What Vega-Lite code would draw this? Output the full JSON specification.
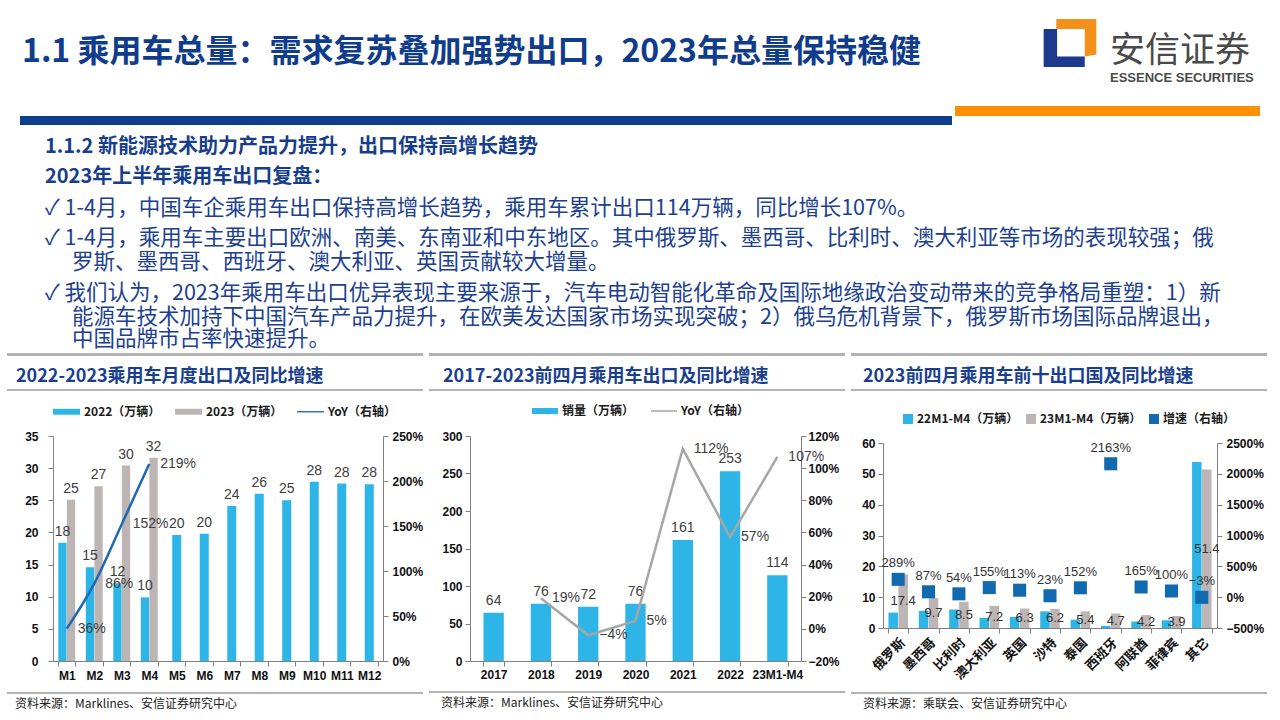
{
  "$schema": "https://vega.github.io/schema/vega-lite/v6.json",
  "padding": 0,
  "background": "white",
  "spacing": 0,
  "bounds": "full",
  "config": {
    "view": {"stroke": null},
    "concat": {"spacing": 0},
    "axis": {"domainColor": "#808080", "tickColor": "#808080", "tickSize": 5, "labelFont": "Liberation Sans", "labelFontSize": 12, "labelFontWeight": "bold", "labelColor": "#111111", "grid": false, "title": null, "labelPadding": 3, "labelOverlap": false},
    "legend": {"labelFont": "Noto Sans CJK SC", "labelFontSize": 12, "labelFontWeight": "bold", "labelColor": "#1A1A1A", "labelLimit": 300}
  },
  "datasets": {
    "c1": [
      {"month": "M1", "series": "2022（万辆）", "value": 18.4},
      {"month": "M1", "series": "2023（万辆）", "value": 25.1},
      {"month": "M2", "series": "2022（万辆）", "value": 14.6},
      {"month": "M2", "series": "2023（万辆）", "value": 27.2},
      {"month": "M3", "series": "2022（万辆）", "value": 12.1},
      {"month": "M3", "series": "2023（万辆）", "value": 30.4},
      {"month": "M4", "series": "2022（万辆）", "value": 9.9},
      {"month": "M4", "series": "2023（万辆）", "value": 31.6},
      {"month": "M5", "series": "2022（万辆）", "value": 19.6},
      {"month": "M6", "series": "2022（万辆）", "value": 19.8},
      {"month": "M7", "series": "2022（万辆）", "value": 24.1},
      {"month": "M8", "series": "2022（万辆）", "value": 26.0},
      {"month": "M9", "series": "2022（万辆）", "value": 25.0},
      {"month": "M10", "series": "2022（万辆）", "value": 27.9},
      {"month": "M11", "series": "2022（万辆）", "value": 27.6},
      {"month": "M12", "series": "2022（万辆）", "value": 27.5}
    ],
    "c1yoy": [
      {"month": "M1", "yoy": 0.36},
      {"month": "M2", "yoy": 0.86},
      {"month": "M3", "yoy": 1.52},
      {"month": "M4", "yoy": 2.19}
    ],
    "c2": [
      {"year": "2017", "sales": 64.4},
      {"year": "2018", "sales": 76.2, "yoy": 0.19},
      {"year": "2019", "sales": 72.3, "yoy": -0.04},
      {"year": "2020", "sales": 76.3, "yoy": 0.05},
      {"year": "2021", "sales": 161.2, "yoy": 1.12},
      {"year": "2022", "sales": 253.1, "yoy": 0.57},
      {"year": "23M1-M4", "sales": 114.4, "yoy": 1.07}
    ],
    "c3bars": [
      {"country": "俄罗斯", "series": "22M1-M4（万辆）", "value": 5.0},
      {"country": "俄罗斯", "series": "23M1-M4（万辆）", "value": 17.4},
      {"country": "墨西哥", "series": "22M1-M4（万辆）", "value": 5.6},
      {"country": "墨西哥", "series": "23M1-M4（万辆）", "value": 9.7},
      {"country": "比利时", "series": "22M1-M4（万辆）", "value": 6.0},
      {"country": "比利时", "series": "23M1-M4（万辆）", "value": 8.5},
      {"country": "澳大利亚", "series": "22M1-M4（万辆）", "value": 3.3},
      {"country": "澳大利亚", "series": "23M1-M4（万辆）", "value": 7.2},
      {"country": "英国", "series": "22M1-M4（万辆）", "value": 3.6},
      {"country": "英国", "series": "23M1-M4（万辆）", "value": 6.3},
      {"country": "沙特", "series": "22M1-M4（万辆）", "value": 5.4},
      {"country": "沙特", "series": "23M1-M4（万辆）", "value": 6.2},
      {"country": "泰国", "series": "22M1-M4（万辆）", "value": 2.7},
      {"country": "泰国", "series": "23M1-M4（万辆）", "value": 5.4},
      {"country": "西班牙", "series": "22M1-M4（万辆）", "value": 0.7},
      {"country": "西班牙", "series": "23M1-M4（万辆）", "value": 4.7},
      {"country": "阿联酋", "series": "22M1-M4（万辆）", "value": 2.1},
      {"country": "阿联酋", "series": "23M1-M4（万辆）", "value": 4.2},
      {"country": "菲律宾", "series": "22M1-M4（万辆）", "value": 2.5},
      {"country": "菲律宾", "series": "23M1-M4（万辆）", "value": 3.9},
      {"country": "其它", "series": "22M1-M4（万辆）", "value": 53.8},
      {"country": "其它", "series": "23M1-M4（万辆）", "value": 51.4}
    ],
    "c3growth": [
      {"country": "俄罗斯", "growth": 2.89},
      {"country": "墨西哥", "growth": 0.87},
      {"country": "比利时", "growth": 0.54},
      {"country": "澳大利亚", "growth": 1.55},
      {"country": "英国", "growth": 1.13},
      {"country": "沙特", "growth": 0.23},
      {"country": "泰国", "growth": 1.52},
      {"country": "西班牙", "growth": 21.63},
      {"country": "阿联酋", "growth": 1.65},
      {"country": "菲律宾", "growth": 1.0},
      {"country": "其它", "growth": -0.03}
    ]
  },
  "vconcat": [
    {
      "hconcat": [
        {"width": 1040, "height": 106, "data": {"values": []}, "mark": "point",
         "title": {"text": "1.1 乘用车总量：需求复苏叠加强势出口，2023年总量保持稳健", "orient": "top", "anchor": "start", "frame": "group", "offset": -69, "dx": 22, "fontSize": 32, "font": "Noto Sans CJK SC", "fontWeight": "bold", "color": "#103C8C"}},
        {"width": 60, "height": 86, "data": {"values": [{"brand": "安信证券"}]},
         "layer": [
           {"mark": {"type": "point", "shape": "M-1,-0.53L-0.49,-0.53L-0.49,0.51L0.56,0.51L0.56,0.91L-1,0.91Z", "size": 2777, "filled": true, "color": "#1D3A8F", "opacity": 1, "strokeWidth": 0}},
           {"mark": {"type": "point", "shape": "M-0.52,-0.91L1,-0.91L1,0.44L0.56,0.51L0.56,-0.53L-0.52,-0.53Z", "size": 2777, "filled": true, "color": "#F39019", "opacity": 1, "strokeWidth": 0}}
         ]},
        {"width": 180, "height": 106, "data": {"values": []}, "mark": "point",
         "title": {"text": "安信证券", "subtitle": "ESSENCE SECURITIES", "orient": "top", "anchor": "start", "frame": "group", "offset": -85, "dx": 10, "fontSize": 35, "font": "Noto Sans CJK SC", "fontWeight": "normal", "color": "#4A4A4A", "subtitleFont": "Liberation Sans", "subtitleFontSize": 13, "subtitleFontWeight": "bold", "subtitleColor": "#4A4A4A", "subtitlePadding": 3}}
      ],
      "spacing": 0, "bounds": "flush"
    },
    {
      "hconcat": [
        {"width": 20, "height": 19, "data": {"values": []}, "mark": "point"},
        {"vconcat": [
          {"width": 932, "height": 10, "data": {"values": []}, "mark": "point"},
          {"width": 932, "height": 9, "data": {"values": []}, "mark": "point", "view": {"fill": "#0D3E8A", "stroke": null}}
        ], "spacing": 0, "bounds": "flush"},
        {"width": 3, "height": 19, "data": {"values": []}, "mark": "point"},
        {"width": 305, "height": 10, "data": {"values": []}, "mark": "point", "view": {"fill": "#FF8E00", "stroke": null}}
      ],
      "spacing": 0, "bounds": "full"
    },
    {
      "vconcat": [
        {"width": 1280, "height": 30, "data": {"values": []}, "mark": "point",
         "title": {"text": "1.1.2 新能源技术助力产品力提升，出口保持高增长趋势", "orient": "top", "anchor": "start", "frame": "group", "offset": -32, "dx": 45, "fontSize": 20, "font": "Noto Sans CJK SC", "fontWeight": "bold", "color": "#163E8D"}},
        {"width": 1280, "height": 32, "data": {"values": []}, "mark": "point",
         "title": {"text": "2023年上半年乘用车出口复盘：", "orient": "top", "anchor": "start", "frame": "group", "offset": -32, "dx": 45, "fontSize": 20, "font": "Noto Sans CJK SC", "fontWeight": "bold", "color": "#163E8D"}},
        {"width": 1280, "height": 30, "data": {"values": []}, "mark": "point",
         "title": {"text": "✓ 1-4月，中国车企乘用车出口保持高增长趋势，乘用车累计出口114万辆，同比增长107%。", "orient": "top", "anchor": "start", "frame": "group", "offset": -32, "dx": 45, "fontSize": 21.5, "font": "Noto Sans CJK SC", "fontWeight": "normal", "color": "#203F90"}},
        {"width": 1280, "height": 24, "data": {"values": []}, "mark": "point",
         "title": {"text": "✓ 1-4月，乘用车主要出口欧洲、南美、东南亚和中东地区。其中俄罗斯、墨西哥、比利时、澳大利亚等市场的表现较强；俄", "orient": "top", "anchor": "start", "frame": "group", "offset": -32, "dx": 45, "fontSize": 21.5, "font": "Noto Sans CJK SC", "fontWeight": "normal", "color": "#203F90"}},
        {"width": 1280, "height": 31, "data": {"values": []}, "mark": "point",
         "title": {"text": "罗斯、墨西哥、西班牙、澳大利亚、英国贡献较大增量。", "orient": "top", "anchor": "start", "frame": "group", "offset": -32, "dx": 72, "fontSize": 21.5, "font": "Noto Sans CJK SC", "fontWeight": "normal", "color": "#203F90"}},
        {"width": 1280, "height": 24, "data": {"values": []}, "mark": "point",
         "title": {"text": "✓ 我们认为，2023年乘用车出口优异表现主要来源于，汽车电动智能化革命及国际地缘政治变动带来的竞争格局重塑：1）新", "orient": "top", "anchor": "start", "frame": "group", "offset": -32, "dx": 45, "fontSize": 21.5, "font": "Noto Sans CJK SC", "fontWeight": "normal", "color": "#203F90"}},
        {"width": 1280, "height": 22, "data": {"values": []}, "mark": "point",
         "title": {"text": "能源车技术加持下中国汽车产品力提升，在欧美发达国家市场实现突破；2）俄乌危机背景下，俄罗斯市场国际品牌退出，", "orient": "top", "anchor": "start", "frame": "group", "offset": -32, "dx": 72, "fontSize": 21.5, "font": "Noto Sans CJK SC", "fontWeight": "normal", "color": "#203F90"}},
        {"width": 1280, "height": 35, "data": {"values": []}, "mark": "point",
         "title": {"text": "中国品牌市占率快速提升。", "orient": "top", "anchor": "start", "frame": "group", "offset": -32, "dx": 72, "fontSize": 21.5, "font": "Noto Sans CJK SC", "fontWeight": "normal", "color": "#203F90"}}
      ],
      "spacing": 0, "bounds": "flush"
    },
    {
      "hconcat": [
        {"width": 1, "height": 10, "data": {"values": []}, "mark": "point"},
        {
          "vconcat": [
            {"vconcat": [
              {"width": 416, "height": 3, "data": {"values": []}, "mark": "point", "view": {"fill": "#B3B3B3", "stroke": null}},
              {"width": 416, "height": 33, "data": {"values": []}, "mark": "point"},
              {"width": 416, "height": 2, "data": {"values": []}, "mark": "point", "view": {"fill": "#B3B3B3", "stroke": null},
               "title": {"text": "2022-2023乘用车月度出口及同比增速", "orient": "top", "anchor": "start", "frame": "group", "offset": 3, "dx": 9, "fontSize": 18, "font": "Noto Sans CJK SC", "fontWeight": "bold", "color": "#1A3F8F"}},
              {"width": 416, "height": 7, "data": {"values": []}, "mark": "point"}
            ], "spacing": 0, "bounds": "flush"},
            {"hconcat": [
              {"width": 46, "height": 225, "data": {"values": []}, "mark": "point"},
              {
                "width": 330, "height": 225,
                "layer": [
                  {"layer": [
                    {"data": {"name": "c1"}, "transform": [{"filter": {"and": [{"field": "month", "oneOf": ["M1", "M2", "M3", "M4"]}, {"field": "series", "equal": "2022（万辆）"}]}}],
                     "mark": {"type": "bar", "size": 8.3, "xOffset": -4.3},
                     "encoding": {
                       "x": {"field": "month", "type": "nominal", "title": null, "scale": {"domain": ["M1","M2","M3","M4","M5","M6","M7","M8","M9","M10","M11","M12"], "paddingInner": 0.38, "paddingOuter": 0.19}, "axis": {"labelAngle": 0, "tickBand": "extent", "labelPadding": 4}},
                       "y": {"field": "value", "type": "quantitative", "title": null, "stack": null, "scale": {"domain": [0, 35], "nice": false}, "axis": {"values": [0, 5, 10, 15, 20, 25, 30, 35], "tickCount": 8, "labelPadding": 10, "labelOverlap": false}},
                       "color": {"field": "series", "type": "nominal", "scale": {"domain": ["2022（万辆）", "2023（万辆）", "YoY（右轴）"], "range": ["#2DB5E8", "#BDB4B4", "#1D6AB0"]},
                         "legend": {"orient": "none", "legendX": 0, "legendY": -38, "direction": "horizontal", "title": null, "symbolType": "M-1,-0.22H1V0.22H-1Z", "symbolSize": 729, "columnPadding": 14, "gridAlign": "all", "labelOffset": 4,
                           "encode": {"symbols": {"update": {"shape": {"signal": "datum.value === 'YoY（右轴）' ? 'M-1,-0.05H1V0.05H-1Z' : 'M-1,-0.22H1V0.22H-1Z'"}, "fill": {"signal": "datum.value === '2022（万辆）' ? '#2DB5E8' : datum.value === '2023（万辆）' ? '#BDB4B4' : '#1D6AB0'"}, "strokeWidth": {"value": 0}, "opacity": {"value": 1}}}}}}
                     }},
                    {"data": {"name": "c1"}, "transform": [{"filter": {"field": "series", "equal": "2023（万辆）"}}],
                     "mark": {"type": "bar", "size": 8.3, "xOffset": 4.3},
                     "encoding": {
                       "x": {"field": "month", "type": "nominal", "title": null},
                       "y": {"field": "value", "type": "quantitative", "title": null, "stack": null, "axis": {"values": [0, 5, 10, 15, 20, 25, 30, 35], "tickCount": 8, "labelPadding": 10, "labelOverlap": false}},
                       "color": {"field": "series", "type": "nominal"}
                     }},
                    {"data": {"name": "c1"}, "transform": [{"filter": {"not": {"field": "month", "oneOf": ["M1", "M2", "M3", "M4"]}}}],
                     "mark": {"type": "bar", "size": 9},
                     "encoding": {
                       "x": {"field": "month", "type": "nominal", "title": null},
                       "y": {"field": "value", "type": "quantitative", "title": null, "stack": null, "axis": {"values": [0, 5, 10, 15, 20, 25, 30, 35], "tickCount": 8, "labelPadding": 10, "labelOverlap": false}},
                       "color": {"field": "series", "type": "nominal"}
                     }},
                    {"data": {"name": "c1"}, "transform": [{"filter": {"and": [{"field": "month", "oneOf": ["M1", "M2", "M3", "M4"]}, {"field": "series", "equal": "2022（万辆）"}]}}],
                     "mark": {"type": "text", "baseline": "alphabetic", "dy": -7, "xOffset": -4.3, "fontSize": 14, "font": "Liberation Sans", "color": "#404040"},
                     "encoding": {
                       "x": {"field": "month", "type": "nominal", "title": null},
                       "y": {"field": "value", "type": "quantitative", "title": null, "stack": null, "axis": {"values": [0, 5, 10, 15, 20, 25, 30, 35], "tickCount": 8, "labelPadding": 10, "labelOverlap": false}},
                       "text": {"field": "value", "type": "quantitative", "format": ".0f"}
                     }},
                    {"data": {"name": "c1"}, "transform": [{"filter": {"field": "series", "equal": "2023（万辆）"}}],
                     "mark": {"type": "text", "baseline": "alphabetic", "dy": -7, "xOffset": 4.3, "fontSize": 14, "font": "Liberation Sans", "color": "#404040"},
                     "encoding": {
                       "x": {"field": "month", "type": "nominal", "title": null},
                       "y": {"field": "value", "type": "quantitative", "title": null, "stack": null, "axis": {"values": [0, 5, 10, 15, 20, 25, 30, 35], "tickCount": 8, "labelPadding": 10, "labelOverlap": false}},
                       "text": {"field": "value", "type": "quantitative", "format": ".0f"}
                     }},
                    {"data": {"name": "c1"}, "transform": [{"filter": {"not": {"field": "month", "oneOf": ["M1", "M2", "M3", "M4"]}}}],
                     "mark": {"type": "text", "baseline": "alphabetic", "dy": -7, "fontSize": 14, "font": "Liberation Sans", "color": "#404040"},
                     "encoding": {
                       "x": {"field": "month", "type": "nominal", "title": null},
                       "y": {"field": "value", "type": "quantitative", "title": null, "stack": null, "axis": {"values": [0, 5, 10, 15, 20, 25, 30, 35], "tickCount": 8, "labelPadding": 10, "labelOverlap": false}},
                       "text": {"field": "value", "type": "quantitative", "format": ".0f"}
                     }}
                  ]},
                  {"layer": [
                    {"data": {"name": "c1yoy"},
                     "mark": {"type": "line", "interpolate": "monotone", "strokeWidth": 2.5},
                     "encoding": {
                       "x": {"field": "month", "type": "nominal", "title": null},
                       "y": {"field": "yoy", "type": "quantitative", "title": null, "scale": {"domain": [0, 2.5], "nice": false}, "axis": {"orient": "right", "values": [0, 0.5, 1, 1.5, 2, 2.5], "tickCount": 6, "format": ".0%", "labelPadding": 4, "labelOverlap": false}},
                       "color": {"datum": "YoY（右轴）", "type": "nominal"}
                     }},
                    {"data": {"name": "c1yoy"},
                     "mark": {"type": "text", "align": "left", "dx": 11, "baseline": "middle", "fontSize": 14, "font": "Liberation Sans", "color": "#404040"},
                     "encoding": {
                       "x": {"field": "month", "type": "nominal", "title": null},
                       "y": {"field": "yoy", "type": "quantitative", "title": null, "axis": {"orient": "right", "values": [0, 0.5, 1, 1.5, 2, 2.5], "tickCount": 6, "format": ".0%", "labelPadding": 4, "labelOverlap": false}},
                       "text": {"field": "yoy", "type": "quantitative", "format": ".0%"}
                     }}
                  ]}
                ],
                "resolve": {"scale": {"y": "independent"}}
              }
            ], "spacing": 0, "bounds": "flush",
            "resolve": {"scale": {"color": "independent"}, "legend": {"color": "independent"}}},
            {"vconcat": [
              {"width": 416, "height": 11, "data": {"values": []}, "mark": "point"},
              {"width": 416, "height": 2, "data": {"values": []}, "mark": "point", "view": {"fill": "#B3B3B3", "stroke": null},
               "title": {"text": "资料来源：Marklines、安信证券研究中心", "orient": "bottom", "anchor": "start", "frame": "group", "offset": 5, "dx": 8, "fontSize": 12, "font": "Noto Sans CJK SC", "fontWeight": "normal", "color": "#222222"}}
            ], "spacing": 0, "bounds": "flush"}
          ],
          "spacing": 0, "bounds": "full",
          "resolve": {"scale": {"color": "independent"}, "legend": {"color": "independent"}}
        },
        {
          "vconcat": [
            {"vconcat": [
              {"width": 416, "height": 3, "data": {"values": []}, "mark": "point", "view": {"fill": "#B3B3B3", "stroke": null}},
              {"width": 416, "height": 33, "data": {"values": []}, "mark": "point"},
              {"width": 416, "height": 2, "data": {"values": []}, "mark": "point", "view": {"fill": "#B3B3B3", "stroke": null},
               "title": {"text": "2017-2023前四月乘用车出口及同比增速", "orient": "top", "anchor": "start", "frame": "group", "offset": 3, "dx": 14, "fontSize": 18, "font": "Noto Sans CJK SC", "fontWeight": "bold", "color": "#1A3F8F"}},
              {"width": 416, "height": 7, "data": {"values": []}, "mark": "point"}
            ], "spacing": 0, "bounds": "flush"},
            {"hconcat": [
              {"width": 41, "height": 225, "data": {"values": []}, "mark": "point"},
              {
                "width": 331, "height": 225,
                "layer": [
                  {"layer": [
                    {"data": {"name": "c2"},
                     "mark": {"type": "bar"},
                     "encoding": {
                       "x": {"field": "year", "type": "nominal", "title": null, "scale": {"domain": ["2017","2018","2019","2020","2021","2022","23M1-M4"], "paddingInner": 0.57, "paddingOuter": 0.285}, "axis": {"labelAngle": 0, "tickBand": "extent", "labelPadding": 3}},
                       "y": {"field": "sales", "type": "quantitative", "title": null, "stack": null, "scale": {"domain": [0, 300], "nice": false}, "axis": {"values": [0, 50, 100, 150, 200, 250, 300], "tickCount": 7, "labelPadding": 3, "labelOverlap": false}},
                       "color": {"datum": "销量（万辆）", "type": "nominal", "scale": {"domain": ["销量（万辆）", "YoY（右轴）"], "range": ["#2DB5E8", "#A6A6A6"]},
                         "legend": {"orient": "none", "legendX": 62, "legendY": -38, "direction": "horizontal", "title": null, "symbolType": "M-1,-0.23H1V0.23H-1Z", "symbolSize": 676, "columnPadding": 16, "gridAlign": "all", "labelOffset": 4,
                           "encode": {"symbols": {"update": {"shape": {"signal": "datum.value === 'YoY（右轴）' ? 'M-1,-0.06H1V0.06H-1Z' : 'M-1,-0.23H1V0.23H-1Z'"}, "fill": {"signal": "datum.value === 'YoY（右轴）' ? '#A6A6A6' : '#2DB5E8'"}, "strokeWidth": {"value": 0}, "opacity": {"value": 1}}}}}}
                     }},
                    {"data": {"name": "c2"},
                     "mark": {"type": "text", "baseline": "alphabetic", "dy": -8, "fontSize": 14, "font": "Liberation Sans", "color": "#404040"},
                     "encoding": {
                       "x": {"field": "year", "type": "nominal", "title": null},
                       "y": {"field": "sales", "type": "quantitative", "title": null, "stack": null, "axis": {"values": [0, 50, 100, 150, 200, 250, 300], "tickCount": 7, "labelPadding": 3, "labelOverlap": false}},
                       "text": {"field": "sales", "type": "quantitative", "format": ".0f"}
                     }}
                  ]},
                  {"layer": [
                    {"data": {"name": "c2"}, "transform": [{"filter": "isValid(datum.yoy)"}],
                     "mark": {"type": "line", "strokeWidth": 2.5},
                     "encoding": {
                       "x": {"field": "year", "type": "nominal", "title": null},
                       "y": {"field": "yoy", "type": "quantitative", "title": null, "scale": {"domain": [-0.2, 1.2], "nice": false}, "axis": {"orient": "right", "values": [-0.2, 0, 0.2, 0.4, 0.6, 0.8, 1, 1.2], "tickCount": 8, "format": ".0%", "labelPadding": 2, "labelOverlap": false}},
                       "color": {"datum": "YoY（右轴）", "type": "nominal"}
                     }},
                    {"data": {"name": "c2"}, "transform": [{"filter": "isValid(datum.yoy)"}],
                     "mark": {"type": "text", "align": "left", "dx": 11, "baseline": "middle", "fontSize": 14, "font": "Liberation Sans", "color": "#404040"},
                     "encoding": {
                       "x": {"field": "year", "type": "nominal", "title": null},
                       "y": {"field": "yoy", "type": "quantitative", "title": null, "axis": {"orient": "right", "values": [-0.2, 0, 0.2, 0.4, 0.6, 0.8, 1, 1.2], "tickCount": 8, "format": ".0%", "labelPadding": 2, "labelOverlap": false}},
                       "text": {"field": "yoy", "type": "quantitative", "format": ".0%"}
                     }}
                  ]}
                ],
                "resolve": {"scale": {"y": "independent"}}
              }
            ], "spacing": 0, "bounds": "flush",
            "resolve": {"scale": {"color": "independent"}, "legend": {"color": "independent"}}},
            {"vconcat": [
              {"width": 416, "height": 11, "data": {"values": []}, "mark": "point"},
              {"width": 416, "height": 2, "data": {"values": []}, "mark": "point", "view": {"fill": "#B3B3B3", "stroke": null},
               "title": {"text": "资料来源：Marklines、安信证券研究中心", "orient": "bottom", "anchor": "start", "frame": "group", "offset": 5, "dx": 12, "fontSize": 12, "font": "Noto Sans CJK SC", "fontWeight": "normal", "color": "#222222"}}
            ], "spacing": 0, "bounds": "flush"}
          ],
          "spacing": 0, "bounds": "full",
          "resolve": {"scale": {"color": "independent"}, "legend": {"color": "independent"}}
        },
        {
          "vconcat": [
            {"vconcat": [
              {"width": 416, "height": 3, "data": {"values": []}, "mark": "point", "view": {"fill": "#B3B3B3", "stroke": null}},
              {"width": 416, "height": 33, "data": {"values": []}, "mark": "point"},
              {"width": 416, "height": 2, "data": {"values": []}, "mark": "point", "view": {"fill": "#B3B3B3", "stroke": null},
               "title": {"text": "2023前四月乘用车前十出口国及同比增速", "orient": "top", "anchor": "start", "frame": "group", "offset": 3, "dx": 12, "fontSize": 18, "font": "Noto Sans CJK SC", "fontWeight": "bold", "color": "#1A3F8F"}},
              {"width": 416, "height": 22, "data": {"values": []}, "mark": "point"}
            ], "spacing": 0, "bounds": "flush"},
            {"hconcat": [
              {"width": 32, "height": 185, "data": {"values": []}, "mark": "point"},
              {
                "width": 334, "height": 185,
                "layer": [
                  {"layer": [
                    {"data": {"name": "c3bars"}, "transform": [{"filter": {"field": "series", "equal": "22M1-M4（万辆）"}}],
                     "mark": {"type": "bar", "size": 9.5, "xOffset": -5},
                     "encoding": {
                       "x": {"field": "country", "type": "nominal", "title": null, "scale": {"domain": ["俄罗斯","墨西哥","比利时","澳大利亚","英国","沙特","泰国","西班牙","阿联酋","菲律宾","其它"], "paddingInner": 0.34, "paddingOuter": 0.17}, "axis": {"labelAngle": -45, "tickBand": "extent", "labelFont": "Noto Sans CJK SC", "labelFontSize": 13, "labelFontWeight": "bold", "labelPadding": 3}},
                       "y": {"field": "value", "type": "quantitative", "title": null, "stack": null, "scale": {"domain": [0, 60], "nice": false}, "axis": {"values": [0, 10, 20, 30, 40, 50, 60], "tickCount": 7, "labelPadding": 3, "labelOverlap": false}},
                       "color": {"field": "series", "type": "nominal", "scale": {"domain": ["22M1-M4（万辆）", "23M1-M4（万辆）", "增速（右轴）"], "range": ["#2DB5E8", "#BDB4B4", "#1169B0"]},
                         "legend": {"orient": "none", "legendX": 19, "legendY": -30, "direction": "horizontal", "title": null, "symbolType": "square", "symbolSize": 100, "columnPadding": 6, "gridAlign": "all", "labelOffset": 3,
                           "encode": {"symbols": {"update": {"fill": {"signal": "datum.value === '22M1-M4（万辆）' ? '#2DB5E8' : datum.value === '23M1-M4（万辆）' ? '#BDB4B4' : '#1169B0'"}, "strokeWidth": {"value": 0}, "opacity": {"value": 1}}}}}}
                     }},
                    {"data": {"name": "c3bars"}, "transform": [{"filter": {"field": "series", "equal": "23M1-M4（万辆）"}}],
                     "mark": {"type": "bar", "size": 9.5, "xOffset": 5},
                     "encoding": {
                       "x": {"field": "country", "type": "nominal", "title": null},
                       "y": {"field": "value", "type": "quantitative", "title": null, "stack": null, "axis": {"values": [0, 10, 20, 30, 40, 50, 60], "tickCount": 7, "labelPadding": 3, "labelOverlap": false}},
                       "color": {"field": "series", "type": "nominal"}
                     }}
                  ]},
                  {"layer": [
                    {"data": {"name": "c3growth"},
                     "mark": {"type": "point", "shape": "square", "filled": true, "size": 170, "opacity": 1},
                     "encoding": {
                       "x": {"field": "country", "type": "nominal", "title": null},
                       "y": {"field": "growth", "type": "quantitative", "title": null, "scale": {"domain": [-5, 25], "nice": false}, "axis": {"orient": "right", "values": [-5, 0, 5, 10, 15, 20, 25], "tickCount": 7, "format": ".0%", "labelPadding": 4, "labelOverlap": false}},
                       "color": {"datum": "增速（右轴）", "type": "nominal"}
                     }},
                    {"data": {"name": "c3growth"},
                     "mark": {"type": "text", "baseline": "alphabetic", "dy": -12, "fontSize": 13, "font": "Liberation Sans", "color": "#333333"},
                     "encoding": {
                       "x": {"field": "country", "type": "nominal", "title": null},
                       "y": {"field": "growth", "type": "quantitative", "title": null, "axis": {"orient": "right", "values": [-5, 0, 5, 10, 15, 20, 25], "tickCount": 7, "format": ".0%", "labelPadding": 4, "labelOverlap": false}},
                       "text": {"field": "growth", "type": "quantitative", "format": ".0%"}
                     }}
                  ]},
                  {"data": {"name": "c3bars"}, "transform": [{"filter": {"field": "series", "equal": "23M1-M4（万辆）"}}],
                   "mark": {"type": "text", "baseline": "middle", "xOffset": 5, "fontSize": 13, "font": "Liberation Sans", "color": "#333333"},
                   "encoding": {
                     "x": {"field": "country", "type": "nominal", "title": null},
                     "y": {"field": "value", "type": "quantitative", "title": null, "scale": {"domain": [0, 120], "nice": false}, "axis": null},
                     "text": {"field": "value", "type": "quantitative", "format": ".1f"}
                   }}
                ],
                "resolve": {"scale": {"y": "independent"}}
              }
            ], "spacing": 0, "bounds": "flush",
            "resolve": {"scale": {"color": "independent"}, "legend": {"color": "independent"}}},
            {"vconcat": [
              {"width": 416, "height": 10, "data": {"values": []}, "mark": "point"},
              {"width": 416, "height": 2, "data": {"values": []}, "mark": "point", "view": {"fill": "#B3B3B3", "stroke": null},
               "title": {"text": "资料来源：乘联会、安信证券研究中心", "orient": "bottom", "anchor": "start", "frame": "group", "offset": 5, "dx": 12, "fontSize": 12, "font": "Noto Sans CJK SC", "fontWeight": "normal", "color": "#222222"}}
            ], "spacing": 0, "bounds": "flush"}
          ],
          "spacing": 0, "bounds": "full",
          "resolve": {"scale": {"color": "independent"}, "legend": {"color": "independent"}}
        }
      ],
      "spacing": 6, "bounds": "full",
      "resolve": {"scale": {"color": "independent"}, "legend": {"color": "independent"}}
    }
  ]
}
